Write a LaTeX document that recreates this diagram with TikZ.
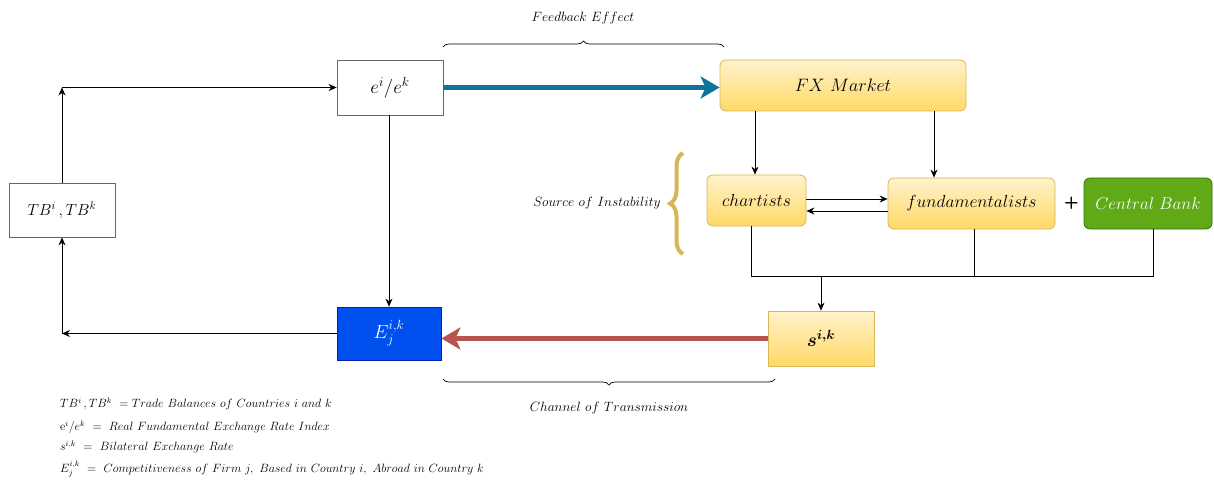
\documentclass[tikz,border=0pt]{standalone}
\usepackage{fix-cm}
\usepackage{amsmath,bm}
\usetikzlibrary{arrows.meta,decorations.pathreplacing,calc}
\definecolor{ytop}{HTML}{FFF2CC}
\definecolor{ybot}{HTML}{FFD966}
\definecolor{yborder}{HTML}{D6B656}
\definecolor{gfill}{HTML}{60A917}
\definecolor{gborder}{HTML}{2D7600}
\definecolor{bfill}{HTML}{0050EF}
\definecolor{bborder}{HTML}{001DBC}
\definecolor{barrow}{HTML}{10739E}
\definecolor{rarrow}{HTML}{B85450}
\definecolor{gline}{HTML}{666666}
\newcommand{\fs}[1]{\fontsize{#1}{#1}\selectfont}
\begin{document}
\begin{tikzpicture}[x=1pt,y=-1pt,
  plainbox/.style={draw=gline, fill=white, line width=0.8pt, inner sep=0pt, font=\fs{16}},
  yelbox/.style={draw=yborder, top color=ytop, bottom color=ybot, line width=0.8pt, rounded corners=6pt, inner sep=0pt, font=\fs{17.5}},
  arr/.style={draw=black, line width=0.7pt, -{Stealth[length=8pt,width=7pt]}},
  ln/.style={draw=black, line width=0.7pt},
  bigarr/.style={line width=5pt, -{Stealth[length=19pt,width=22pt,inset=5pt]}},
  lbl/.style={font=\fs{13.5}, inner sep=0pt},
  leg/.style={font=\fs{12}, inner sep=0pt, anchor=west},
  brc/.style={draw=black, line width=0.7pt, decorate, decoration={brace, amplitude=6pt}}
]
\useasboundingbox (0,0) rectangle (1214,481);
% nodes
\node[plainbox, minimum width=106pt, minimum height=54pt] (TB) at (62,210) {$TB^i\,,TB^k$};
\node[plainbox, minimum width=106pt, minimum height=55pt, font=\fs{19}] (e) at (390,87.5) {$e^i/e^k$};
\node[yelbox, minimum width=246pt, minimum height=51pt, font=\fs{18}] (FX) at (843,85.5) {$FX\ Market$};
\node[yelbox, minimum width=99pt, minimum height=51pt] (ch) at (756.5,200.5) {$chartists$};
\node[yelbox, minimum width=167pt, minimum height=51pt] (fu) at (971.5,203.5) {$fundamentalists$};
\node[draw=gborder, fill=gfill, line width=0.8pt, rounded corners=6pt, inner sep=0pt, text=white, font=\fs{17}, minimum width=128pt, minimum height=51pt] (cb) at (1148,203.5) {$Central\ Bank$};
\node[font=\sffamily\bfseries\fs{17}, inner sep=0pt] (plus) at (1071.5,203) {+};
\node[draw=bborder, fill=bfill, line width=0.8pt, inner sep=0pt, text=white, font=\fs{19}, minimum width=104pt, minimum height=53pt] (E) at (389,333.5) {$E_j^{i,k}$};
\node[draw=yborder, top color=ytop, bottom color=ybot, line width=0.8pt, inner sep=0pt, font=\fs{19}, minimum width=106pt, minimum height=55pt] (s) at (821,338.5) {$\bm{s^{i,k}}$};
% labels
\node[lbl] (fbl) at (583,18) {$Feedback\ Effect$};
\node[lbl] (srcl) at (597,203) {$Source\ of\ Instability$};
\node[lbl] (chl) at (609,408) {$Channel\ of\ Transmission$};
% braces
\coordinate (fb1) at (443,47);
\coordinate (fb2) at (724,47);
\draw[brc] (fb1) -- (fb2);
\coordinate (cb1) at (775,379);
\coordinate (cb2) at (443,379);
\draw[brc] (cb1) -- (cb2);
\coordinate (sb1) at (683,254);
\coordinate (sb2) at (683,153);
\draw[draw=yborder, line width=4pt, decorate, decoration={brace, amplitude=13pt}] (sb1) -- (sb2);
% connectors
\coordinate (tl) at (62,87.5);
\coordinate (bl) at (62,333.5);
\draw[arr] (TB.north) -- (tl);
\draw[arr] (tl) -- (e.west);
\draw[arr] (E.west) -- (bl);
\draw[arr] (bl) -- (TB.south);
\draw[arr] (e.south -| E.north) -- (E.north);
\draw[bigarr, barrow] (e.east) -- (e.east -| FX.west);
\coordinate (fxc) at (755,0);
\coordinate (fxf) at (934,0);
\draw[arr] (FX.south -| fxc) -- (ch.north -| fxc);
\draw[arr] (FX.south -| fxf) -- (fu.north -| fxf);
\draw[arr] ([yshift=1.5pt]ch.east) -- ([yshift=1.5pt]ch.east -| fu.west);
\draw[arr] ([yshift=-7.5pt]fu.west) -- ([yshift=-7.5pt]fu.west -| ch.east);
\coordinate (hl) at (751,276);
\coordinate (hr) at (1153,276);
\coordinate (hf) at (974,276);
\coordinate (j) at (821,276);
\draw[ln] (ch.south -| hl) -- (hl) -- (hr) -- (cb.south -| hr);
\draw[ln] (fu.south -| hf) -- (hf);
\draw[arr] (j) -- (s.north);
\draw[bigarr, rarrow] (s.west) -- (E.east |- s.west);
% legend
\node[leg] (l1) at (60,404) {$TB^i\,,TB^k\ =Trade\ Balances\ of\ Countries\ i\ and\ k$};
\node[leg] (l2) at (60,427) {$\mathrm{e}^i/e^k\ =\ Real\ Fundamental\ Exchange\ Rate\ Index$};
\node[leg] (l3) at (60,447) {$s^{i,k}\ =\ Bilateral\ Exchange\ Rate$};
\node[leg] (l4) at (60,469) {$E_j^{i,k}\ =\ Competitiveness\ of\ Firm\ j,\ Based\ in\ Country\ i,\ Abroad\ in\ Country\ k$};
\end{tikzpicture}
\end{document}
